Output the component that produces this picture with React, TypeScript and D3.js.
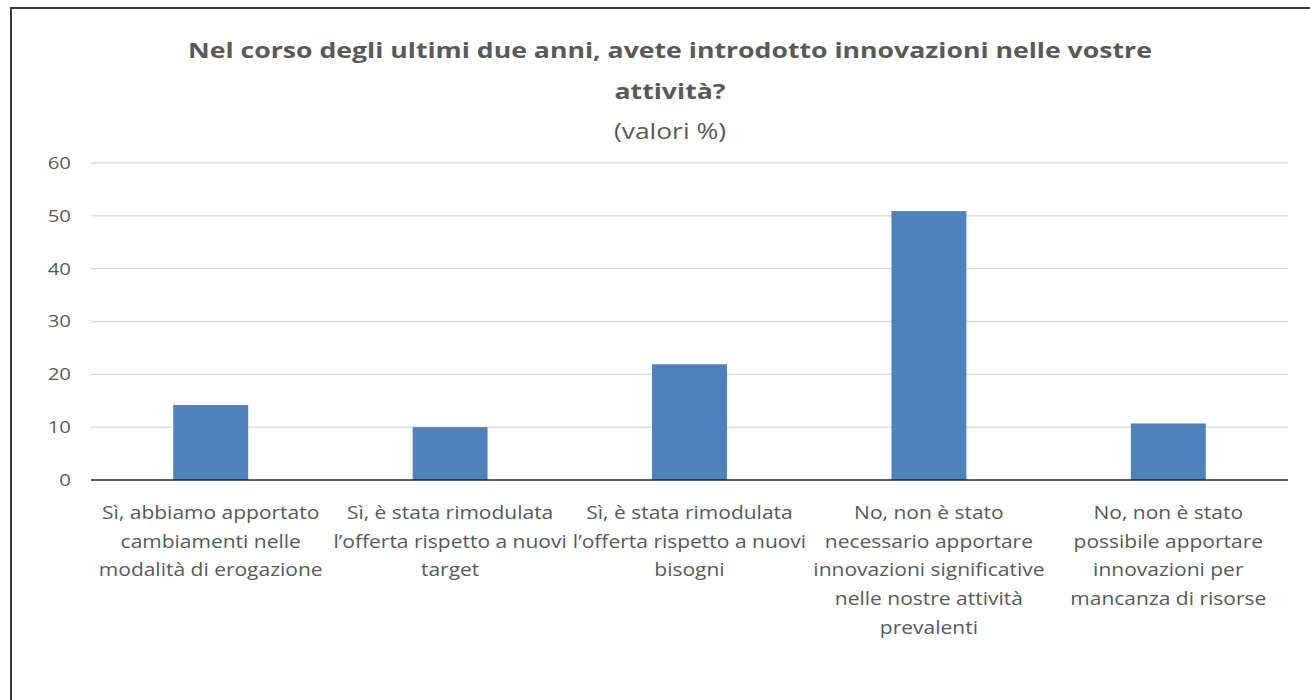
import React from "react";
import * as d3 from "d3";

const categories: string[][] = [
  ["Sì, abbiamo apportato", "cambiamenti nelle", "modalità di erogazione"],
  ["Sì, è stata rimodulata", "l’offerta rispetto a nuovi", "target"],
  ["Sì, è stata rimodulata", "l’offerta rispetto a nuovi", "bisogni"],
  ["No, non è stato", "necessario apportare", "innovazioni significative", "nelle nostre attività", "prevalenti"],
  ["No, non è stato", "possibile apportare", "innovazioni per", "mancanza di risorse"],
];
const values: number[] = [14.2, 10.0, 21.9, 50.9, 10.7];
const yTicks: number[] = [0, 10, 20, 30, 40, 50, 60];
const titleLines: string[] = [
  "Nel corso degli ultimi due anni, avete introdotto innovazioni nelle vostre",
  "attività?",
];
const subtitle = "(valori %)";

const W = 1310;
const H = 700;
const plot = { left: 91, right: 1288, top: 163, bottom: 480 };
const FONT = "'Open Sans', Lato, sans-serif";
const TEXT = "#595959";
const SX = 1.2;

function T(props: {
  x: number;
  y: number;
  children: React.ReactNode;
  anchor?: string;
  size: number;
  weight?: number;
  dy?: string;
}) {
  return (
    <g transform={`translate(${props.x},${props.y}) scale(${SX},1)`}>
      <text
        x={0}
        y={0}
        dy={props.dy}
        textAnchor={props.anchor || "middle"}
        fontSize={props.size}
        fontWeight={props.weight || 400}
        fill={TEXT}
      >
        {props.children}
      </text>
    </g>
  );
}

export default function App() {
  const idx = categories.map((_, i) => String(i));
  const x = d3
    .scaleBand<string>()
    .domain(idx)
    .range([plot.left, plot.right])
    .paddingInner(0.687)
    .paddingOuter(0.3435);
  const y = d3.scaleLinear().domain([0, 60]).range([plot.bottom, plot.top]);

  return (
    <svg
      width={W}
      height={H}
      style={{ position: "absolute", left: 0, top: 0, background: "#fff" }}
      fontFamily={FONT}
    >
      <rect x={0} y={0} width={W} height={H} fill="#fff" />
      <rect x={11} y={8} width={W + 20} height={H + 20} fill="none" stroke="#3a3a3a" strokeWidth={2} />

      <T x={670} y={58} size={22.2} weight={700}>{titleLines[0]}</T>
      <T x={670} y={99} size={22.2} weight={700}>{titleLines[1]}</T>
      <T x={670} y={139} size={22}>{subtitle}</T>

      {yTicks.map((t) =>
        t === 0 ? null : (
          <line
            key={"g" + t}
            x1={plot.left}
            x2={plot.right}
            y1={y(t)}
            y2={y(t)}
            stroke="#d9d9d9"
            strokeWidth={1.3}
          />
        )
      )}
      {yTicks.map((t) => (
        <T key={"yl" + t} x={71} y={y(t)} dy="0.35em" anchor="end" size={17}>
          {t}
        </T>
      ))}

      {values.map((v, i) => (
        <rect
          key={"b" + i}
          x={x(String(i))}
          y={y(v)}
          width={x.bandwidth()}
          height={y(0) - y(v)}
          fill="#4f81bd"
        />
      ))}

      <line x1={plot.left} x2={plot.right} y1={y(0)} y2={y(0)} stroke="#262626" strokeWidth={1.5} />

      {categories.map((lines, i) =>
        lines.map((l, j) => (
          <T
            key={"c" + i + "-" + j}
            x={(x(String(i)) as number) + x.bandwidth() / 2}
            y={519 + j * 28.7}
            size={17.5}
          >
            {l}
          </T>
        ))
      )}
    </svg>
  );
}
